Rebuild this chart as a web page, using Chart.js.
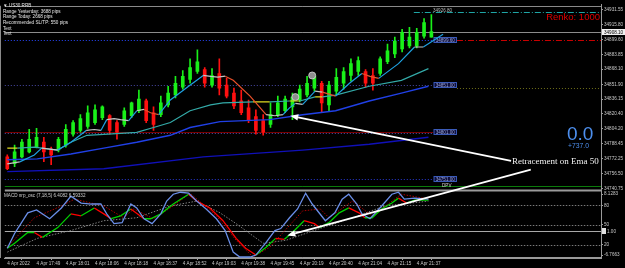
<!DOCTYPE html>
<html>
<head>
<meta charset="utf-8">
<script src="https://cdn.jsdelivr.net/npm/chart.js@4.4.0/dist/chart.umd.min.js"></script>
<style>
  html, body { margin: 0; padding: 0; background: #000; }
  #chart { display: block; background: #000; }
</style>
</head>
<body>
<canvas id="chart" width="625" height="268"></canvas>
<script>
// candles (renko bars), one per index
const candleOpen  = [34774.4,34767.0,34774.4,34779.6,34784.8,34790.1,34782.7,34781.7,34786.9,34798.5,34802.7,34806.8,34811.0,34816.3,34818.4,34811.0,34808.9,34818.4,34823.6,34834.1,34821.5,34819.4,34829.9,34840.4,34848.8,34857.2,34865.5,34867.6,34850.9,34863.4,34850.9,34842.5,34834.1,34826.8,34817.3,34813.1,34808.9,34819.4,34823.6,34827.8,34835.1,34840.4,34847.7,34853.0,34829.9,34844.6,34853.0,34861.3,34865.5,34865.5,34861.3,34863.4,34876.0,34884.4,34889.6,34892.8,34892.8,34903.3,34902.2];
const candleHigh  = [34776.5,34786.9,34793.2,34803.7,34804.8,34795.3,34784.8,34795.3,34808.9,34813.1,34819.4,34828.9,34829.9,34828.9,34819.4,34813.1,34826.8,34833.0,34845.6,34836.2,34827.8,34839.3,34849.8,34860.3,34866.6,34879.2,34888.6,34869.7,34868.7,34879.2,34858.2,34847.7,34845.6,34835.1,34824.7,34819.4,34832.0,34839.3,34839.3,34842.5,34850.9,34860.3,34863.4,34855.1,34855.1,34868.7,34869.7,34879.2,34881.3,34867.6,34868.7,34881.3,34894.9,34902.2,34910.6,34912.7,34911.6,34922.1,34926.3];
const candleLow   = [34760.7,34763.9,34773.3,34778.6,34783.8,34769.1,34766.0,34779.6,34784.8,34796.4,34800.6,34804.8,34808.9,34814.2,34798.5,34793.2,34806.8,34816.3,34821.5,34811.0,34802.7,34817.3,34827.8,34837.2,34846.7,34853.0,34863.4,34848.8,34848.8,34840.4,34837.2,34825.7,34819.4,34811.0,34798.5,34797.4,34805.8,34817.3,34821.5,34814.2,34833.0,34838.3,34844.6,34821.5,34822.6,34840.4,34846.7,34855.1,34861.3,34848.8,34845.6,34861.3,34873.9,34880.2,34886.5,34890.7,34890.7,34901.2,34902.2];
const candleClose = [34761.8,34779.6,34790.1,34793.2,34795.3,34779.6,34776.5,34793.2,34803.7,34811.0,34815.2,34821.5,34824.7,34827.8,34802.7,34800.6,34823.6,34832.0,34836.2,34813.1,34808.9,34832.0,34842.5,34853.0,34860.3,34869.7,34876.0,34853.0,34861.3,34847.7,34839.3,34828.9,34821.5,34813.1,34802.7,34800.6,34819.4,34832.0,34836.2,34838.3,34846.7,34853.0,34860.3,34832.0,34850.9,34859.2,34865.5,34873.9,34877.1,34853.0,34853.0,34879.2,34887.5,34898.0,34907.5,34902.2,34907.5,34917.9,34908.1];

// moving averages (bar index, price)
const emaFastIdx = [0,1.7,3.7,4.7,5.8,6.9,8.7,10.8,11.9,12.8,13.6,14.6,15.5,16.6,17.7,18.7,19.6,20.7,22.3,24.8,26.8,27.8,28.8,29.8,30.9,33.2,35.4,36.6,37.7,38.6,39.4,40.4,42.1,43.1,44.9,46.8,48.5,49.6,50.8,53.5,55.7,56.9,59.6];
const emaFast    = [34766.9,34769.0,34776.4,34783.7,34782.6,34781.6,34790.0,34802.6,34803.6,34802.6,34814.1,34815.2,34814.1,34813.1,34823.6,34825.0,34821.5,34819.4,34835.1,34849.8,34861.3,34860.3,34859.5,34860.5,34856.1,34839.3,34819.4,34818.3,34819.4,34826.7,34831.5,34830.5,34844.5,34843.5,34839.3,34852.9,34863.4,34860.3,34858.2,34873.9,34891.7,34891.7,34905.3];
const ema50Idx   = [0,1.4,3.7,6.9,8.7,10.9,13.2,15.5,17.7,20.0,22.3,25.0,27.8,29.5,33.6,35.9,38.6,40.0,42.1,43.1,44.9,49.5,53.9,57.6];
const ema50      = [34783.7,34783.7,34784.8,34781.6,34790.0,34797.4,34798.4,34799.5,34800.5,34805.7,34811.0,34823.6,34829.9,34832.0,34833.0,34833.0,34834.0,34834.0,34838.5,34838.5,34840.3,34849.8,34856.1,34868.6];
const maMidIdx   = [0,4.1,8.7,13.2,17.7,22.3,25.0,29.1,35.9,40.4,44.9,49.5,53.9,57.6];
const maMid      = [34771.2,34772.2,34777.4,34783.7,34790.0,34797.4,34805.7,34812.0,34814.1,34819.4,34823.6,34834.0,34842.4,34849.8];
const maSlowIdx  = [0,13.2,26.8,40.4,49.5,57.6];
const maSlow     = [34758.6,34761.7,34774.3,34781.6,34787.9,34795.3];

// oscillator panel (bar index, value)
const oscMainIdx = [0,1.0,2.8,4.0,5.8,7.4,8.7,10.1,11.5,12.8,13.6,14.6,15.7,16.9,17.7,18.7,19.8,21.0,21.8,22.7,23.7,24.8,25.9,27.2,28.6,29.8,30.9,31.8,33.2,34.0,35.4,36.6,37.4,38.6,39.7,40.8,41.7,43.5,44.8,45.8,46.7,47.8,48.5,49.6,51.2,52.6,53.5,54.3,55.7,57.6];
const oscMain    = [14.5,37,68.5,73,59.5,76,94,83.5,82,82,67,52,53.5,82,76,59.5,52,67,86.5,97,100,98.5,86.5,74.5,59.5,41.5,8.5,1,1,4,23.5,41.5,44.5,61,74.5,98.5,82,56.5,68.5,89.5,97,82,67,59.5,79,97,100,89.5,91,89.5];
const oscSigIdx  = [0,1.0,2.8,3.7,4.8,6.9,8.7,10.1,11.9,13.2,14.2,15.5,16.9,18.7,19.6,21.0,22.7,24.8,25.9,27.7,29.5,31.3,32.6,34.0,35.4,36.7,37.9,39.0,40.6,42.0,42.7,44.0,45.4,46.7,48.1,48.9,49.9,51.2,52.6,53.5,54.6,55.7,57.6];
const oscSig     = [14.5,22,38.5,38.5,31,46,67,64,76,67,59.5,64,74.5,59.5,59.5,67,82,97,86.5,76,56.5,29.5,14.5,4,16,29.5,28,38.5,56.5,52,46,53.5,68.5,76,68.5,61,61,74.5,83.5,91,83.5,88,88];
const oscRedIdx  = [0,3.7,7.4,9.2,13.2,15.9,17.3,20.0,22.7,25.0,28.6,31.3,33.6,35.9,40.4,42.8,44.0,47.2,49.9,53.9,57.6];
const oscRed     = [16,61,79,89.5,79,61,74.5,59.5,79,98.5,64,26.5,1,16,71.5,74.5,61,86.5,64,97,89.5];
const oscGrayIdx = [0,4.1,8.7,13.2,17.7,22.3,25.9,29.1,31.3,35.0,38.1,43.1,47.2,51.6,57.6];
const oscGray    = [8.5,29.5,41.5,56.5,61,79,86.5,68.5,52,22,26.5,46,61,79,86.5];

// axes
const timeLabels = ['4 Apr 2022','4 Apr 17:49','4 Apr 18:01','4 Apr 18:06','4 Apr 18:18','4 Apr 18:37','4 Apr 18:52','4 Apr 19:03','4 Apr 19:38','4 Apr 19:45','4 Apr 20:19','4 Apr 20:40','4 Apr 21:04','4 Apr 21:15','4 Apr 21:37'];
const priceTicks = [34931.55,34915.80,34899.60,34883.85,34868.10,34851.90,34836.15,34820.40,34804.20,34788.45,34772.25,34756.50,34740.75];
const oscTicks = [4,20,50,80,97];
const oscTickLabels = ['-6.7663','20','50','80','8.1283'];

// levels and annotations
const boxLevels = [34899.60, 34851.00, 34801.00, 34751.00];
const bidPrice = 34908.10;
const targetPrice = 34929.5;
const dpvPrice = 34742.8;
const oscLevels = [80, 50, 20];
const oscZero = 41.5;
const markerIdx = [39.4, 41.7];
const markerPrice = [34838.2, 34861.3];
const infoLines = ['\u25BC US30.RRB', 'Range Yesterday: 3688 pips', 'Range Today: 2668 pips', 'Recommended SL/TP: 550 pips', 'Text', 'Text'];

const pts = (xs, ys) => xs.map((v, k) => ({ x: v, y: ys[k] }));
const isUp = k => candleClose[k] >= candleOpen[k];
const candleColor = c => isUp(c.dataIndex) ? '#19f019' : '#ff1010';

function slopeColor(up, flat, down, t) {
  return ctx => {
    const d = (ctx.p1.parsed.y - ctx.p0.parsed.y) / (ctx.p1.parsed.x - ctx.p0.parsed.x);
    return d > t ? up : (d < -t ? down : flat);
  };
}

function lineSet(data, color, axis, extra) {
  return Object.assign({
    type: 'line', data: data, yAxisID: axis, borderColor: color, borderWidth: 1.2,
    pointRadius: 0, tension: 0, order: 1
  }, extra || {});
}

const overlay = {
  id: 'overlay',
  beforeDatasetsDraw(chart) {
    const { ctx, scales: { x, y, y2 } } = chart;
    const L = x.left, R = x.right;
    const bx0 = x.getPixelForValue(58.3), bx1 = x.getPixelForValue(61.5);
    ctx.save();
    const hline = (py, x0, x1, color, dash, w) => {
      ctx.beginPath();
      ctx.strokeStyle = color; ctx.lineWidth = w || 1; ctx.setLineDash(dash || []);
      const yy = Math.round(py) + 0.5;
      ctx.moveTo(x0, yy); ctx.lineTo(x1, yy); ctx.stroke();
    };
    // frame
    hline(y.top + 1, L, R, '#8a8a8a');
    hline(y.bottom, L, R, '#9a9a9a', [], 2);
    hline(y2.bottom - 1, L, R, '#9a9a9a');
    ctx.beginPath(); ctx.strokeStyle = '#8a8a8a'; ctx.lineWidth = 1; ctx.setLineDash([]);
    ctx.moveTo(0.5, y.top + 1); ctx.lineTo(0.5, y2.bottom); ctx.stroke();

    // price levels
    hline(y.getPixelForValue(targetPrice), x.getPixelForValue(55.6), R, '#1fa5a5', [6, 2, 1, 2]);
    hline(y.getPixelForValue(bidPrice), L, R, '#8c8c8c');
    hline(y.getPixelForValue(boxLevels[0]), L, bx0, '#2848ff', [1, 2]);
    hline(y.getPixelForValue(boxLevels[0]), bx1, R, '#c80000', [6, 2, 1, 2]);
    hline(y.getPixelForValue(boxLevels[1]), L, bx0, '#4a4aa8', [1, 2]);
    hline(y.getPixelForValue(boxLevels[1]) + 3, bx1, R, '#6e6e18', [1, 2]);
    hline(y.getPixelForValue(boxLevels[2]), L, bx0, '#7a0000');
    hline(y.getPixelForValue(boxLevels[2]) + 1, L, bx0, '#5050b0', [1, 2]);
    hline(y.getPixelForValue(boxLevels[3]), L, bx0, '#2838d0', [1, 2]);
    hline(y.getPixelForValue(dpvPrice), L, R, '#0b7a0b');

    // oscillator levels
    oscLevels.forEach(v => hline(y2.getPixelForValue(v), L, R, '#7a7a7a', [1.5, 1.5]));
    hline(y2.getPixelForValue(oscZero), L, R, '#a8a8a8');

    // level boxes
    ctx.setLineDash([]);
    ctx.font = '4.6px "Liberation Sans"';
    ctx.textAlign = 'center'; ctx.textBaseline = 'middle';
    boxLevels.forEach(p => {
      const py = Math.round(y.getPixelForValue(p));
      ctx.fillStyle = '#0c0c3a';
      ctx.fillRect(bx0, py - 3, bx1 - bx0, 6);
      ctx.strokeStyle = '#3a5ab8'; ctx.lineWidth = 1;
      ctx.strokeRect(bx0 + 0.5, py - 2.5, bx1 - bx0 - 1, 5);
      ctx.fillStyle = '#9aa8d8';
      ctx.fillText(p.toFixed(2), (bx0 + bx1) / 2, py + 0.3);
    });
    ctx.restore();
  },
  afterDatasetsDraw(chart) {
    const { ctx, scales: { x, y, y2 } } = chart;
    ctx.save();
    const arrow = (x0, y0, x1, y1) => {
      ctx.strokeStyle = '#ffffff'; ctx.fillStyle = '#ffffff'; ctx.lineWidth = 1.7; ctx.setLineDash([]);
      const a = Math.atan2(y1 - y0, x1 - x0);
      const bxp = x1 - 8 * Math.cos(a), byp = y1 - 8 * Math.sin(a);
      ctx.beginPath(); ctx.moveTo(x0, y0); ctx.lineTo(bxp, byp); ctx.stroke();
      ctx.beginPath();
      ctx.moveTo(x1, y1);
      ctx.lineTo(bxp + 3.2 * Math.sin(a), byp - 3.2 * Math.cos(a));
      ctx.lineTo(bxp - 3.2 * Math.sin(a), byp + 3.2 * Math.cos(a));
      ctx.closePath(); ctx.fill();
    };
    arrow(x.getPixelForValue(68.9), y.getPixelForValue(34770.1), x.getPixelForValue(38.7), y.getPixelForValue(34818.3));
    arrow(x.getPixelForValue(71.6), y.getPixelForValue(34760.7), x.getPixelForValue(38.3), y2.getPixelForValue(34));

    // texts
    ctx.textBaseline = 'alphabetic';
    ctx.textAlign = 'left';
    ctx.fillStyle = '#e6e6e6';
    ctx.font = '4.6px "Liberation Sans"';
    [7, 12.5, 18, 23.5, 29.5, 35].forEach((ty, k) => ctx.fillText(infoLines[k], 3, ty));
    ctx.fillStyle = '#cfcfcf';
    ctx.fillText('MACD nrp_osc (7,18,5) 6.4082 6.59332', 4, y2.top + 7);
    ctx.fillText('DPV', 442, y.getPixelForValue(dpvPrice) + 1);
    ctx.fillStyle = '#b8b8b8';
    ctx.fillText('34926.80', 433, 12);

    ctx.fillStyle = '#dd0000';
    ctx.font = '9.5px "Liberation Sans"';
    ctx.textAlign = 'right';
    ctx.fillText('Renko: 1000', 600, 20);

    ctx.textAlign = 'left';
    ctx.fillStyle = '#4d8fee';
    ctx.font = '19px "Liberation Sans"';
    ctx.fillText('0.0', 567, 140);
    ctx.font = '6.8px "Liberation Sans"';
    ctx.fillText('+737.0', 568, 148);

    ctx.fillStyle = '#f2f2f2';
    ctx.font = '9px "Liberation Serif"';
    ctx.fillText('Retracement on Ema 50', 512, 164);

    // axis highlights
    ctx.font = '4.6px "Liberation Sans"';
    ctx.textBaseline = 'middle';
    const by = Math.round(y.getPixelForValue(bidPrice));
    ctx.fillStyle = '#f0f0f0'; ctx.fillRect(x.right + 1, by - 3, 24, 6);
    ctx.fillStyle = '#000'; ctx.fillText(bidPrice.toFixed(2), x.right + 3, by + 0.3);
    const zy = Math.round(y2.getPixelForValue(oscZero));
    ctx.fillStyle = '#e0e0e0'; ctx.fillRect(x.right + 1, zy - 3, 4, 6);
    ctx.fillStyle = '#c8c8c8'; ctx.fillText('1.00', x.right + 6, zy + 0.3);
    ctx.restore();
  }
};

const tickFont = { size: 4.6, family: 'Liberation Sans' };

new Chart(document.getElementById('chart'), {
  type: 'bar',
  data: {
    datasets: [
      lineSet(pts(emaFastIdx, emaFast), '#1ea0e0', 'y', { segment: { borderColor: slopeColor('#1ea0e0', '#c4c4c4', '#e8502a', 1.5) } }),
      lineSet(pts(ema50Idx, ema50), '#33aaa8', 'y', { segment: { borderColor: slopeColor('#33aaa8', '#e0dc20', '#33aaa8', 0.2) } }),
      lineSet(pts(maMidIdx, maMid), '#2040e6', 'y', { borderWidth: 1.4 }),
      lineSet(pts(maSlowIdx, maSlow), '#1010b8', 'y', { borderWidth: 1.4 }),
      lineSet(pts(markerIdx, markerPrice), '#d0d0d0', 'y', { showLine: false, pointRadius: 3.5, pointBackgroundColor: '#8e8e8e', pointBorderColor: '#d8d8d8', pointBorderWidth: 0.8 }),
      lineSet(pts(oscMainIdx, oscMain), '#6a8ee8', 'y2', { borderWidth: 1.3 }),
      lineSet(pts(oscSigIdx, oscSig), '#00d000', 'y2', { borderWidth: 1.3, segment: { borderColor: slopeColor('#00d000', '#00d000', '#ff0000', 0) } }),
      lineSet(pts(oscRedIdx, oscRed), '#c00000', 'y2', { borderWidth: 0.9, borderDash: [1.5, 1.5], order: 2 }),
      lineSet(pts(oscGrayIdx, oscGray), '#8c8c8c', 'y2', { borderWidth: 0.9, borderDash: [1.5, 1.5], order: 2 }),
      {
        label: 'wick', yAxisID: 'y', order: 5, grouped: false, barThickness: 1,
        data: candleLow.map((lo, k) => ({ x: k, y: [lo, candleHigh[k]] })),
        backgroundColor: candleColor
      },
      {
        label: 'body', yAxisID: 'y', order: 4, grouped: false, barThickness: 3, minBarLength: 1,
        data: candleOpen.map((o, k) => ({ x: k, y: [o, candleClose[k]] })),
        backgroundColor: candleColor
      }
    ]
  },
  options: {
    responsive: false,
    animation: false,
    devicePixelRatio: 1,
    events: [],
    layout: { padding: 0 },
    plugins: { legend: { display: false }, tooltip: { enabled: false } },
    scales: {
      x: {
        type: 'linear', min: -0.34, max: 81.2, offset: false, position: 'bottom',
        afterBuildTicks: s => { s.ticks = timeLabels.map((_, k) => ({ value: k * 4 })); },
        afterFit: s => { s.height = 10; s.paddingLeft = 0; s.paddingRight = 0; },
        ticks: { color: '#c8c8c8', font: tickFont, align: 'start', padding: 1, maxRotation: 0, autoSkip: false,
                 callback: v => timeLabels[Math.round(v / 4)] },
        grid: { drawOnChartArea: false, tickLength: 2, color: '#a0a0a0' },
        border: { display: true, color: '#9a9a9a' }
      },
      y: {
        type: 'linear', position: 'right', stack: 'panes', stackWeight: 189,
        min: 34738.65, max: 34936.79,
        afterBuildTicks: s => { s.ticks = priceTicks.map(v => ({ value: v })); },
        afterFit: s => { s.width = 24; s.paddingTop = 0; s.paddingBottom = 0; },
        ticks: { color: '#c8c8c8', font: tickFont, padding: 1, autoSkip: false, callback: v => v.toFixed(2) },
        grid: { drawOnChartArea: false, tickLength: 2, color: '#a0a0a0' },
        border: { color: '#9a9a9a' }
      },
      y2: {
        type: 'linear', position: 'right', stack: 'panes', stackWeight: 69,
        min: -0.5, max: 103,
        afterBuildTicks: s => { s.ticks = oscTicks.map(v => ({ value: v })); },
        afterFit: s => { s.width = 24; s.paddingTop = 0; s.paddingBottom = 0; },
        ticks: { color: '#c8c8c8', font: tickFont, padding: 1, autoSkip: false,
                 callback: v => oscTickLabels[oscTicks.indexOf(v)] },
        grid: { drawOnChartArea: false, tickLength: 2, color: '#a0a0a0' },
        border: { color: '#9a9a9a' }
      }
    }
  },
  plugins: [overlay]
});
</script>
</body>
</html>
